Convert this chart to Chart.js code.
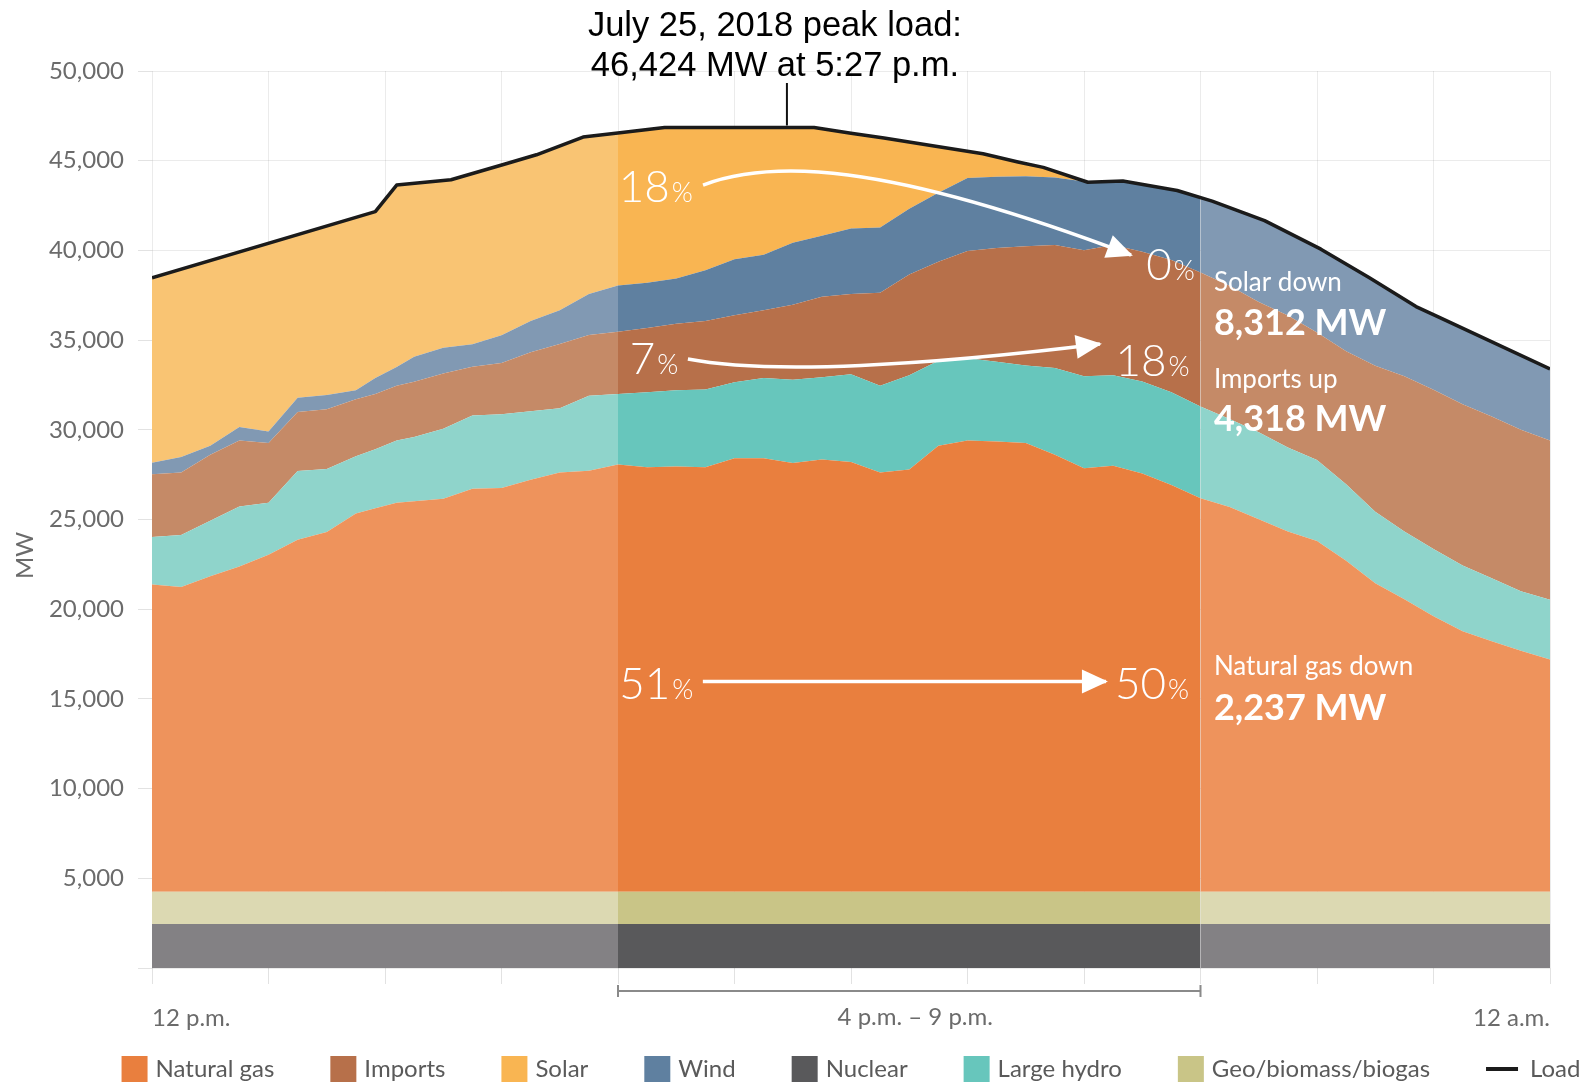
<!DOCTYPE html>
<html>
<head>
<meta charset="utf-8">
<script src="https://cdn.jsdelivr.net/npm/chart.js@4.4.1/dist/chart.umd.min.js"></script>
<style>
  html, body { margin: 0; padding: 0; background: #fff; }
  #wrap { width: 1581px; height: 1085px; }
</style>
</head>
<body>
<div id="wrap"><canvas id="mix"></canvas></div>
<script>
// minutes after 12 p.m. (every 15 minutes, plus the jump just before 2 p.m.)
const times = [0,15,30,45,60,75,90,105,115,126,135,150,165,180,195,210,225,240,255,270,285,300,315,330,345,360,
  375,390,405,420,435,450,465,480,495,510,525,540,555,570,585,600,615,630,645,660,675,690,705,720];

// MW by source
const nuclear = [2450,2450,2450,2450,2450,2450,2450,2450,2450,2450,2450,2450,2450,2450,2450,2450,2450,2450,2450,2450,2450,2450,2450,2450,2450,2450,
  2450,2450,2450,2450,2450,2450,2450,2450,2450,2450,2450,2450,2450,2450,2450,2450,2450,2450,2450,2450,2450,2450,2450,2450];
const geo = [1800,1800,1800,1800,1800,1800,1800,1800,1800,1800,1800,1800,1800,1800,1800,1800,1800,1800,1800,1800,1800,1800,1800,1800,1800,1800,
  1800,1800,1800,1800,1800,1800,1800,1800,1800,1800,1800,1800,1800,1800,1800,1800,1800,1800,1800,1800,1800,1800,1800,1800];
const gas = [17130,16990,17590,18130,18790,19620,20060,21080,21380,21680,21770,21910,22470,22510,22970,23370,23470,23820,23660,23700,23660,24160,24160,23900,24100,23960,
  23370,23540,24860,25160,25100,25020,24360,23600,23740,23310,22670,21930,21440,20760,20080,19550,18450,17200,16310,15360,14520,13960,13430,12940];
const hydro = [2650,2890,3090,3350,2890,3840,3510,3190,3280,3480,3580,3900,4080,4100,3820,3580,4180,3920,4180,4260,4340,4240,4480,4640,4580,4880,
  4840,5250,4740,4580,4440,4320,4830,5140,5050,5130,5170,5120,4910,4860,4680,4510,4260,3980,3770,3740,3670,3520,3320,3340];
const imports = [3490,3490,3680,3680,3340,3280,3320,3180,3090,3050,3080,3080,2720,2860,3280,3580,3380,3480,3580,3700,3820,3740,3780,4180,4480,4480,
  5180,5620,5520,5980,6340,6640,6860,7020,7260,7240,7370,7470,7430,7250,7360,7120,7420,8140,8660,8880,8980,9010,9000,8870];
const wind = [640,860,500,740,640,800,800,500,890,1040,1390,1430,1250,1550,1750,1890,2290,2570,2520,2520,2830,3110,3090,3450,3410,3650,
  3630,3660,3840,4070,3970,3910,3770,3830,3550,3760,3940,4180,4350,4670,4630,4740,4860,4700,4280,4190,4220,4130,4130,3980];
const solar = [10320,10480,10320,9760,10480,9070,9420,9640,9270,10150,9650,9320,9510,9480,9160,9160,8790,8500,8550,8420,7940,7340,7080,6420,5960,5310,
  5040,3710,2580,1490,1120,700,330,30,0,0,0,0,0,0,0,0,0,0,0,0,0,0,0,0];

// load curve (minutes after 12 p.m., MW)
const loadTimes = [0,115,126,154,181,198,222,241,264,341,360,377,402,428,446,459,482,500,528,546,573,602,627,651,663,720];
const load = [38470,42160,43640,43940,44790,45330,46320,46560,46850,46850,46530,46270,45830,45390,44930,44630,43800,43870,43340,42750,41660,40070,38470,36870,36270,33390];

const peakStart = 240;   // 4 p.m.
const peakEnd = 540;     // 9 p.m.
const peakTime = 327;    // 5:27 p.m.
const peakNote = ['July 25, 2018 peak load:', '46,424 MW at 5:27 p.m.'];

const legendOrder = ['Natural gas', 'Imports', 'Solar', 'Wind', 'Nuclear', 'Large hydro', 'Geo/biomass/biogas', 'Load'];

// share labels and arrows, placed at [minutes, MW]
const shareArrows = [
  { from: '18', to: '0',  fromAt: [259.5, 43617], toAt: [524.6, 39230],
    path: [[283.8, 43644], [318.3, 45038], [374.9, 45038], [504.2, 39743]] },
  { from: '7',  to: '18', fromAt: [258.5, 34007], toAt: [515.3, 33890],
    path: [[276.0, 33946], [318.3, 33054], [400.7, 33612], [488.2, 34782]] },
  { from: '51', to: '50', fromAt: [259.7, 15908], toAt: [515.0, 15908],
    path: [[283.7, 15964], [353, 15964], [422, 15964], [491.3, 15964]] }
];
const changeNotes = [
  { at: [546.9, 38221], text: 'Solar down', bold: false },
  { at: [546.9, 35919], text: '8,312 MW', bold: true },
  { at: [546.9, 32770], text: 'Imports up', bold: false },
  { at: [546.9, 30579], text: '4,318 MW', bold: true },
  { at: [546.9, 16806], text: 'Natural gas down', bold: false },
  { at: [546.9, 14448], text: '2,237 MW', bold: true }
];

const sources = [
  { label: 'Nuclear', data: nuclear, dark: '#59595b', light: '#838184' },
  { label: 'Geo/biomass/biogas', data: geo, dark: '#c9c587', light: '#dcd9b2' },
  { label: 'Natural gas', data: gas, dark: '#e97f3e', light: '#ee935c' },
  { label: 'Large hydro', data: hydro, dark: '#67c6bc', light: '#8fd4cb' },
  { label: 'Imports', data: imports, dark: '#b7704a', light: '#c58a67' },
  { label: 'Wind', data: wind, dark: '#5f80a0', light: '#8199b3' },
  { label: 'Solar', data: solar, dark: '#f9b552', light: '#f9c473' }
];

const inPeak = ctx => times[ctx.p0DataIndex] >= peakStart && times[ctx.p1DataIndex] <= peakEnd;

const datasets = sources.map((s, i) => ({
  label: s.label,
  data: times.map((t, k) => ({ x: t, y: s.data[k] })),
  stack: 'gen',
  fill: i === 0 ? 'origin' : '-1',
  backgroundColor: s.dark,
  borderWidth: 0,
  pointRadius: 0,
  pointStyle: 'rect',
  tension: 0,
  segment: { backgroundColor: ctx => inPeak(ctx) ? undefined : s.light }
}));

datasets.push({
  label: 'Load',
  data: loadTimes.map((t, i) => ({ x: t, y: load[i] })),
  stack: 'load',
  order: -1,
  fill: false,
  borderColor: '#1b1b1b',
  borderWidth: 3.5,
  borderJoinStyle: 'round',
  pointRadius: 0,
  pointStyle: 'line',
  tension: 0
});

const font = 'Lato, "Open Sans", sans-serif';

function drawArrowHead(ctx, x, y, angle) {
  ctx.save();
  ctx.translate(x, y);
  ctx.rotate(angle);
  ctx.beginPath();
  ctx.moveTo(2, 0);
  ctx.lineTo(-24, -12);
  ctx.lineTo(-24, 12);
  ctx.closePath();
  ctx.fill();
  ctx.restore();
}

function drawShare(ctx, num, cx, cy) {
  ctx.font = '300 44px ' + font;
  const w1 = ctx.measureText(num).width;
  ctx.font = '300 27px ' + font;
  const w2 = ctx.measureText('%').width;
  const x0 = cx - (w1 + w2 + 2) / 2;
  ctx.textAlign = 'left';
  ctx.textBaseline = 'alphabetic';
  ctx.font = '300 44px ' + font;
  ctx.fillText(num, x0, cy + 16);
  ctx.font = '300 27px ' + font;
  ctx.fillText('%', x0 + w1 + 2, cy + 16);
}

const notes = {
  id: 'notes',
  afterDraw(chart) {
    const { ctx, chartArea } = chart;
    const xs = chart.scales.x, ys = chart.scales.y;
    const px = p => [xs.getPixelForValue(p[0]), ys.getPixelForValue(p[1])];
    ctx.save();

    // share arrows
    ctx.strokeStyle = '#fff';
    ctx.fillStyle = '#fff';
    ctx.lineWidth = 3.5;
    shareArrows.forEach(a => {
      const [p0, c1, c2, p3] = a.path.map(px);
      ctx.beginPath();
      ctx.moveTo(p0[0], p0[1]);
      ctx.bezierCurveTo(c1[0], c1[1], c2[0], c2[1], p3[0], p3[1]);
      ctx.stroke();
      drawArrowHead(ctx, p3[0], p3[1], Math.atan2(p3[1] - c2[1], p3[0] - c2[0]));
      const f = px(a.fromAt), t = px(a.toAt);
      drawShare(ctx, a.from, f[0], f[1]);
      drawShare(ctx, a.to, t[0], t[1]);
    });

    // change notes
    ctx.textAlign = 'left';
    ctx.textBaseline = 'middle';
    changeNotes.forEach(n => {
      const p = px(n.at);
      ctx.font = n.bold ? 'bold 36px ' + font : '26px ' + font;
      ctx.fillText(n.text, p[0], p[1]);
    });

    // peak load note
    const tx = xs.getPixelForValue(peakTime);
    ctx.strokeStyle = '#111';
    ctx.lineWidth = 2;
    ctx.beginPath();
    ctx.moveTo(tx, chartArea.top + 12);
    ctx.lineTo(tx, ys.getPixelForValue(Math.max(...load)) - 2);
    ctx.stroke();
    ctx.fillStyle = '#000';
    ctx.textAlign = 'center';
    ctx.font = '34.5px "Liberation Sans", Arial, sans-serif';
    ctx.fillText(peakNote[0], tx - 12, chartArea.top - 45);
    ctx.fillText(peakNote[1], tx - 12, chartArea.top - 5);

    // 4 p.m. - 9 p.m. bracket
    const b0 = xs.getPixelForValue(peakStart), b1 = xs.getPixelForValue(peakEnd);
    const by = chartArea.bottom + 23;
    ctx.strokeStyle = '#8a8a8a';
    ctx.lineWidth = 2;
    ctx.beginPath();
    ctx.moveTo(b0, by); ctx.lineTo(b1, by);
    ctx.moveTo(b0, by - 6); ctx.lineTo(b0, by + 6);
    ctx.moveTo(b1, by - 6); ctx.lineTo(b1, by + 6);
    ctx.stroke();
    ctx.fillStyle = '#6b6b6b';
    ctx.font = '24px ' + font;
    ctx.fillText('4 p.m. \u2013 9 p.m.', (b0 + b1) / 2 + 6, chartArea.bottom + 49);

    // y axis title
    ctx.save();
    ctx.translate(25, ys.getPixelForValue(23000));
    ctx.rotate(-Math.PI / 2);
    ctx.fillText('MW', 0, 0);
    ctx.restore();

    // legend row
    ctx.font = '24px ' + font;
    ctx.textAlign = 'left';
    const items = legendOrder.map(name => chart.data.datasets.find(d => d.label === name));
    const box = 26, gapText = 8, gapItem = 56;
    const widths = items.map(d => box + gapText + (d.pointStyle === 'line' ? 10 : 0) + ctx.measureText(d.label).width);
    const total = widths.reduce((a, b) => a + b, 0) + gapItem * (items.length - 1);
    let x = (chartArea.left + chartArea.right) / 2 - total / 2;
    const y = chartArea.bottom + 101;
    items.forEach((d, i) => {
      if (d.pointStyle === 'line') {
        ctx.strokeStyle = d.borderColor;
        ctx.lineWidth = 4;
        ctx.beginPath();
        ctx.moveTo(x, y); ctx.lineTo(x + box + 6, y);
        ctx.stroke();
        ctx.fillStyle = '#5a5a5a';
        ctx.fillText(d.label, x + box + 10 + gapText, y);
      } else {
        ctx.fillStyle = d.backgroundColor;
        ctx.fillRect(x, y - box / 2, box, box);
        ctx.fillStyle = '#5a5a5a';
        ctx.fillText(d.label, x + box + gapText, y);
      }
      x += widths[i] + gapItem;
    });

    ctx.restore();
  }
};

const ctx = document.getElementById('mix').getContext('2d');
const mixChart = new Chart(ctx, {
  type: 'line',
  data: { datasets: datasets },
  options: {
    responsive: true,
    maintainAspectRatio: false,
    animation: false,
    layout: { padding: { left: 0, right: 31, top: 71, bottom: 0 } },
    plugins: {
      legend: { display: false },
      tooltip: { enabled: false }
    },
    scales: {
      x: {
        type: 'linear',
        min: 0,
        max: 720,
        z: 1,
        border: { display: false },
        grid: { color: 'rgba(0,0,0,0.08)', tickLength: 16, tickColor: '#e2e2e2' },
        ticks: {
          stepSize: 60,
          autoSkip: false,
          maxRotation: 0,
          align: 'inner',
          padding: 20,
          color: '#6b6b6b',
          font: { family: font, size: 24 },
          callback: v => v === 0 ? '12 p.m.' : (v === 720 ? '12 a.m.' : '')
        },
        afterFit: s => { s.height = 117; }
      },
      y: {
        stacked: true,
        min: 0,
        max: 50000,
        z: 1,
        border: { display: false },
        grid: { color: 'rgba(0,0,0,0.08)', tickLength: 14, tickColor: '#e2e2e2' },
        ticks: {
          stepSize: 5000,
          padding: 14,
          color: '#6b6b6b',
          font: { family: font, size: 24 },
          callback: v => v === 0 ? '' : v.toLocaleString('en-US')
        },
        afterFit: s => { s.width = 152; }
      }
    }
  },
  plugins: [notes]
});
</script>
</body>
</html>
